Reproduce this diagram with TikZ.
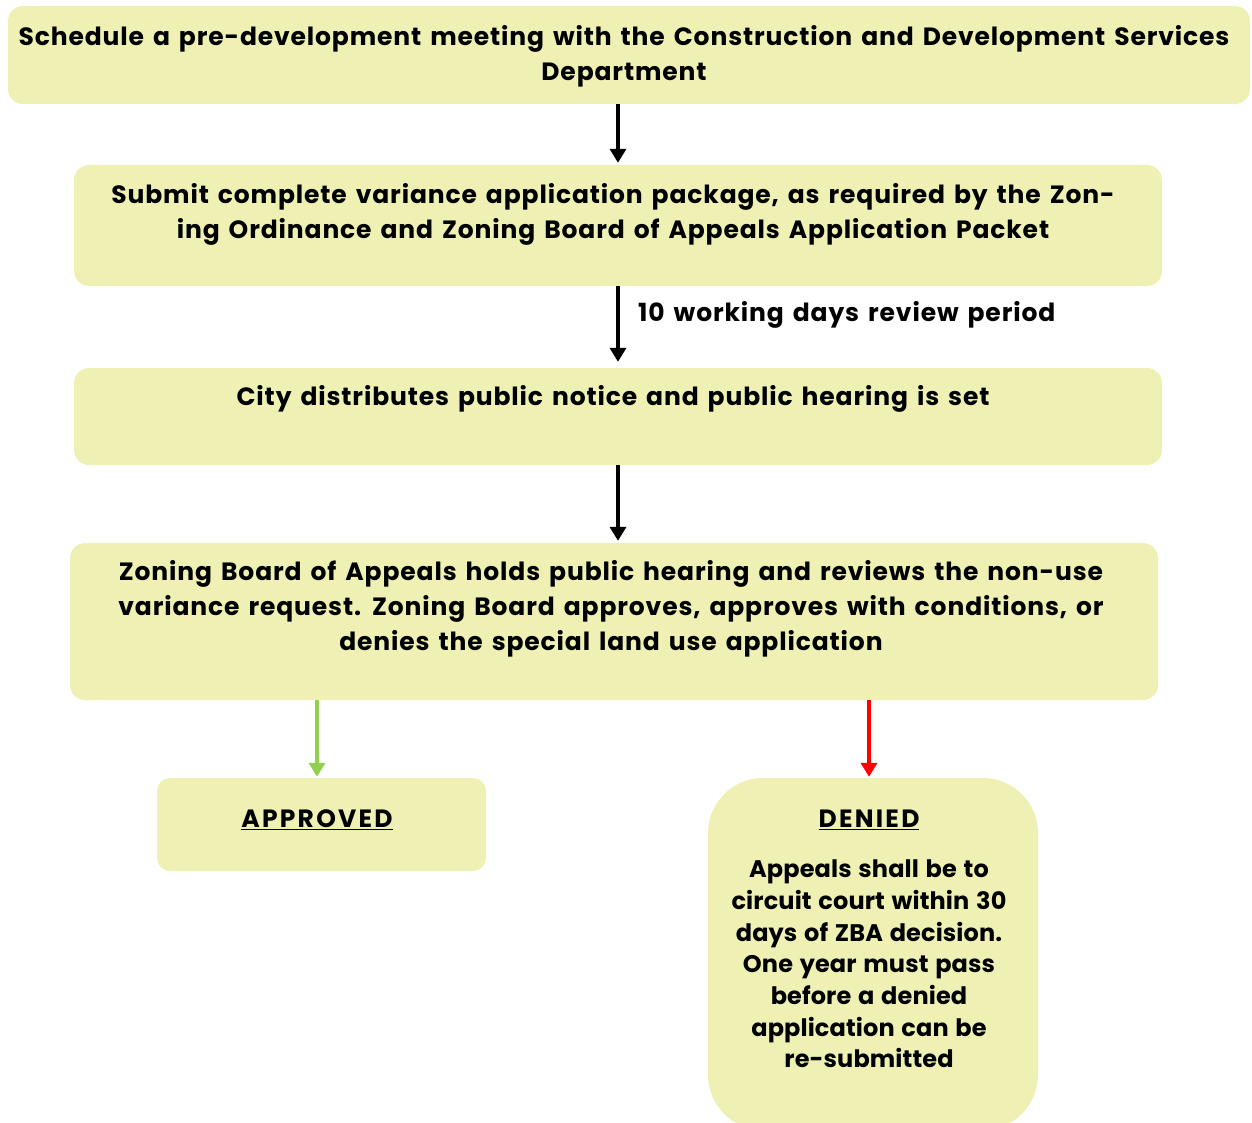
\documentclass[tikz,border=0pt]{standalone}
\usepackage{fontspec}
\setmainfont{Poppins}[UprightFont={* Bold}]
\newfontfamily\mainf{Poppins}[UprightFont={* Bold}, LetterSpace=3.5, WordSpace=1.45]
\newfontfamily\bodyf{Poppins}[UprightFont={* Bold}, LetterSpace=0.5, WordSpace=1.3]
\newfontfamily\titlef{Poppins}[UprightFont={* Bold}, LetterSpace=9]
\usetikzlibrary{arrows.meta}
\definecolor{boxfill}{HTML}{EFF1B4}
\definecolor{okgreen}{HTML}{92D050}
\definecolor{nored}{HTML}{FF0000}
\begin{document}
\begin{tikzpicture}[x=1pt,y=-1pt,
  box/.style={fill=boxfill, draw=none, rounded corners=15pt, inner sep=0pt},
  txt/.style={inner sep=0pt, align=center, font=\mainf\fontsize{25}{35}\selectfont},
  titletxt/.style={inner sep=0pt, align=center, font=\titlef\fontsize{25}{35}\selectfont},
  smalltxt/.style={inner sep=0pt, align=center, font=\bodyf\fontsize{24}{31.7}\selectfont},
  conn/.style={line width=4pt, -{Triangle[width=16pt,length=14pt]}}
]
\useasboundingbox (0,0) rectangle (1252,1123);
% boxes
\node[box, minimum width=1242pt, minimum height=98pt] (b1) at (629,55) {};
\node[box, minimum width=1088pt, minimum height=121pt] (b2) at (618,225.5) {};
\node[box, minimum width=1088pt, minimum height=97pt] (b3) at (618,416.5) {};
\node[box, minimum width=1088pt, minimum height=157pt] (b4) at (614,621.5) {};
\node[box, rounded corners=13pt, minimum width=329pt, minimum height=93pt] (ap) at (321.5,824.5) {};
\node[box, rounded corners=55pt, minimum width=330pt, minimum height=352pt] (dn) at (873,954) {};
% texts
\node[txt] (t1) at (624,56) {Schedule a pre-development meeting with the Construction and Development Services\\Department};
\node[txt] (t2) at (613,214) {Submit complete variance application package, as required by the Zon-\\ing Ordinance and Zoning Board of Appeals Application Packet};
\node[txt] (t3) at (613,399) {City distributes public notice and public hearing is set};
\node[txt] (t4) at (611,609) {Zoning Board of Appeals holds public hearing and reviews the non-use\\variance request. Zoning Board approves, approves with conditions, or\\denies the special land use application};
\node[txt, anchor=west] (lab) at (638,315) {10 working days review period};
\node[titletxt] (at) at (317,820) {\underline{APPROVED}};
\node[titletxt] (dt) at (869,820) {\underline{DENIED}};
\node[smalltxt] (dbody) at (869,964) {Appeals shall be to\\circuit court within 30\\days of ZBA decision.\\One year must pass\\before a denied\\application can be\\re-submitted};
% connectors
\draw[conn] (b1.south -| b2.north) -- ([yshift=2pt]b2.north);
\draw[conn] (b2.south) -- ([yshift=6pt]b3.north);
\draw[conn] (b3.south) -- ([yshift=2pt]b4.north -| b3.south);
\draw[conn, okgreen] (b4.south -| at) -- ([yshift=1pt]ap.north -| at);
\draw[conn, nored] (b4.south -| dt) -- ([yshift=1pt]dn.north -| dt);
\end{tikzpicture}
\end{document}
